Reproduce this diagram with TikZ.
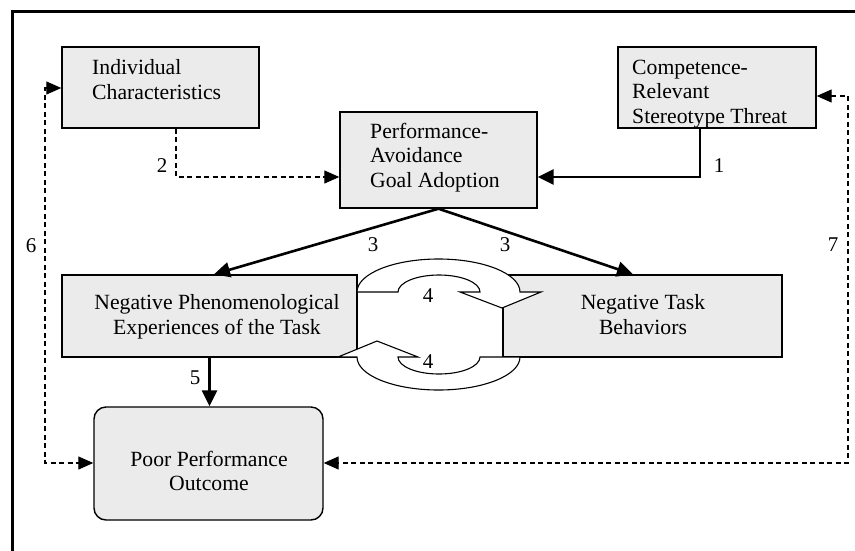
\documentclass[tikz,border=0pt]{standalone}
\usepackage{fontspec}
\setmainfont{Liberation Serif}
\usetikzlibrary{arrows.meta}
\definecolor{boxgray}{HTML}{EBEBEB}
\begin{document}
\begin{tikzpicture}[x=1pt,y=-1pt,
  box/.style={draw=black, fill=boxgray, line width=1.4pt, rectangle, inner sep=0pt},
  txt/.style={font=\fontsize{21.7}{24.5}\selectfont, inner sep=0pt},
  lbl/.style={font=\fontsize{21}{24}\selectfont, inner sep=0pt, anchor=center},
  solidarrow/.style={line width=2.6pt, -{Triangle[length=16pt,width=15pt]}},
  dasharrow/.style={line width=1.2pt, dash pattern=on 5pt off 3.5pt, -{Triangle[length=15pt,width=13pt]}},
  dashboth/.style={line width=1.2pt, dash pattern=on 5pt off 3.5pt, {Triangle[length=15pt,width=13pt]}-{Triangle[length=15pt,width=13pt]}},
  loopshape/.style={draw=black, fill=white, line width=1.1pt, line join=miter}
]
\useasboundingbox (0,0) rectangle (855,550);
\fill[white] (0,0) rectangle (855,550);
% frame (cropped on right and bottom)
\draw[line width=3pt] (12,560) -- (12,11) -- (870,11);

% boxes
\node[box, minimum width=197pt, minimum height=81pt] (ind) at (160.5,87.5) {};
\node[box, minimum width=198pt, minimum height=81pt] (comp) at (717,87.5) {};
\node[box, minimum width=197pt, minimum height=96pt] (perf) at (438.5,160) {};
\node[box, minimum width=295pt, minimum height=82pt] (neg) at (209.5,316) {};
\node[box, minimum width=279pt, minimum height=82pt] (task) at (642.5,316) {};
\node[box, rounded corners=12pt, minimum width=229pt, minimum height=113pt] (poor) at (208.5,463.5) {};

% bend points
\coordinate (b1) at (700,177);
\coordinate (b2) at (176,177);
\coordinate (c6a) at (45,88);
\coordinate (c6b) at (45,463);
\coordinate (c7a) at (848,96);
\coordinate (c7b) at (848,463);

% connectors
\draw[solidarrow] (comp.south -| b1) -- (b1) -- (b1 -| perf.east);
\draw[dasharrow] (ind.south -| b2) -- (b2) -- (b2 -| perf.west);
\draw[solidarrow] (perf.south) -- ([xshift=4.5pt]neg.north);
\draw[solidarrow] (perf.south) -- ([xshift=-9.5pt]task.north);
\draw[solidarrow] (neg.south) -- (neg.south |- poor.north);
\draw[dashboth] (c6a -| ind.west) -- (c6a) -- (c6b) -- (c6b -| poor.west);
\draw[dashboth] (c7a -| comp.east) -- (c7a) -- (c7b) -- (c7b -| poor.east);

% reciprocal curved arrows
\draw[loopshape] (357,292) arc[start angle=180, end angle=360, x radius=81.5, y radius=33]
  -- (541,292) -- (502,308) -- (460,292) -- (480,292)
  arc[start angle=0, end angle=-180, x radius=41, y radius=17] -- cycle;
\draw[loopshape] (520,357) arc[start angle=0, end angle=180, x radius=81.5, y radius=33]
  -- (338,357) -- (377,341) -- (418,357) -- (398,357)
  arc[start angle=180, end angle=0, x radius=41, y radius=17] -- cycle;

% texts (base anchor = baseline of last line)
\node[txt, align=left, anchor=base west] (tind) at (92,99) {Individual\\Characteristics};
\node[txt, align=left, anchor=base west] (tcomp) at (632,123) {Competence-\\Relevant\\Stereotype Threat};
\node[txt, align=left, anchor=base west] (tperf) at (370,187) {Performance-\\Avoidance\\Goal Adoption};
\node[txt, align=center, anchor=base] (tneg) at (217,334) {Negative Phenomenological\\Experiences of the Task};
\node[txt, align=center, anchor=base] (ttask) at (643,334) {Negative Task\\Behaviors};
\node[txt, align=center, anchor=base, font=\fontsize{21.7}{23.5}\selectfont] (tpoor) at (209,490) {Poor Performance\\Outcome};

% labels
\node[lbl] (l1) at (719,166) {1};
\node[lbl] (l2) at (162,166) {2};
\node[lbl] (l3a) at (373,245) {3};
\node[lbl] (l3b) at (505,245) {3};
\node[lbl] (l4a) at (428,296) {4};
\node[lbl] (l4b) at (428,362) {4};
\node[lbl] (l5) at (195,378) {5};
\node[lbl] (l6) at (31,246) {6};
\node[lbl] (l7) at (833,245) {7};
\end{tikzpicture}
\end{document}
